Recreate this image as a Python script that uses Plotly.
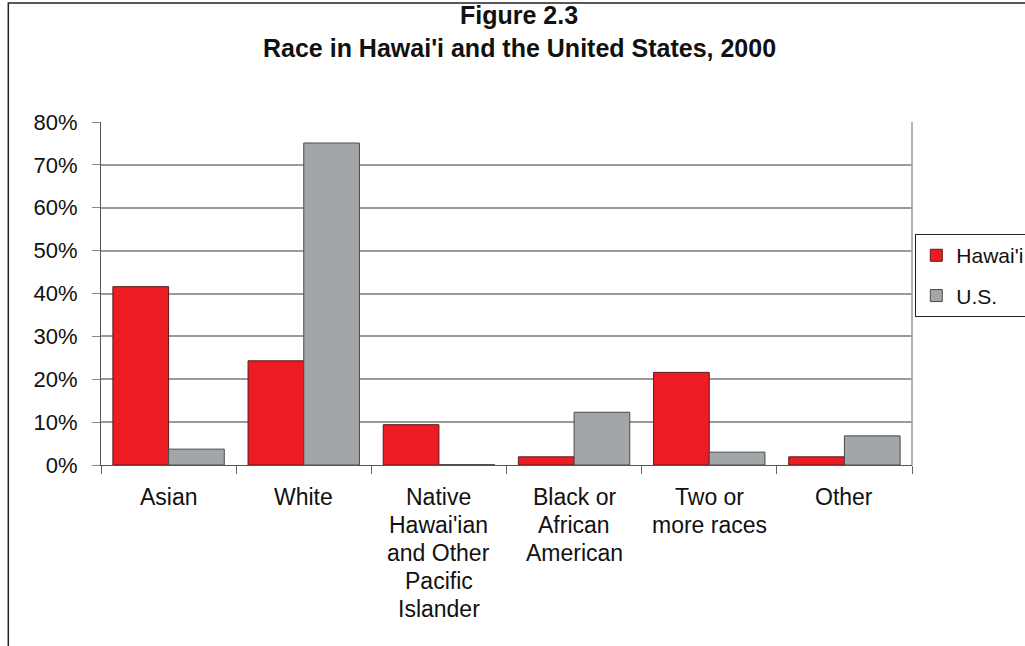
import plotly.graph_objects as go

# Race shares (percent), Census 2000
categories = ["Asian", "White", "Native Hawai'ian and Other Pacific Islander",
              "Black or African American", "Two or more races", "Other"]
label_lines = [["Asian"], ["White"],
               ["Native", "Hawai'ian", "and Other", "Pacific", "Islander"],
               ["Black or", "African", "American"],
               ["Two or", "more races"], ["Other"]]
hawaii = [41.6, 24.3, 9.4, 1.9, 21.6, 1.9]
us = [3.7, 75.1, 0.1, 12.3, 3.0, 6.8]
y_ticks = [0, 10, 20, 30, 40, 50, 60, 70, 80]
y_tick_text = [f"{v}%" for v in y_ticks]

FONT = "Liberation Sans, Arial, sans-serif"
W, H = 1025, 646
L, R, T, B = 100.7, 113.3, 121.7, 180.7
pw, ph = W - L - R, H - T - B

def px_x(p):
    return (p - L) / pw

def px_y(p):
    return (H - B - p) / ph

fig = go.Figure()
fig.add_trace(go.Bar(x=categories, y=hawaii, name="Hawai'i",
                     marker=dict(color="#ED1C24", line=dict(color="#5a1a1a", width=1)),
                     legendgroup="a"))
fig.add_trace(go.Bar(x=categories, y=us, name="U.S.",
                     marker=dict(color="#A3A6A8", line=dict(color="#4a4a4a", width=1)),
                     legendgroup="b"))

annotations = [
    dict(text="<b>Figure 2.3</b>", x=px_x(519), y=px_y(15), xref="paper", yref="paper",
         showarrow=False, font=dict(family=FONT, size=25, color="#111"),
         xanchor="center", yanchor="middle"),
    dict(text="<b>Race in Hawai'i and the United States, 2000</b>", x=px_x(519), y=px_y(48),
         xref="paper", yref="paper", showarrow=False,
         font=dict(family=FONT, size=25, color="#111"), xanchor="center", yanchor="middle"),
]
for cat, lines in zip(categories, label_lines):
    for i, line in enumerate(lines):
        annotations.append(dict(text=line, x=cat, y=0, xref="x", yref="y",
                                yshift=-(31.5 + i * 28), showarrow=False,
                                xanchor="center", yanchor="middle",
                                font=dict(family=FONT, size=23, color="#111")))

shapes = [
    # outer chart frame
    dict(type="rect", xref="paper", yref="paper", x0=px_x(8), x1=px_x(1060),
         y0=px_y(680), y1=px_y(2.5), line=dict(color="#222", width=1.5),
         fillcolor="rgba(0,0,0,0)", layer="below"),
    # right edge of plot area
    dict(type="line", xref="paper", yref="paper", x0=1, x1=1, y0=0, y1=1,
         line=dict(color="#9a9a9a", width=1.5)),
]

fig.update_layout(
    width=W, height=H,
    margin=dict(l=L, r=R, t=T, b=B, autoexpand=False),
    paper_bgcolor="white", plot_bgcolor="white",
    barmode="group", bargap=0.176, bargroupgap=0,
    font=dict(family=FONT, size=21, color="#111"),
    showlegend=True,
    legend=dict(x=px_x(915), y=px_y(234), xanchor="left", yanchor="top",
                bordercolor="#222", borderwidth=1, bgcolor="white",
                font=dict(family=FONT, size=21, color="#111"),
                traceorder="grouped", tracegroupgap=10, itemwidth=30),
    annotations=annotations,
    shapes=shapes,
)
fig.update_xaxes(showticklabels=False, ticks="outside", ticklen=8, tickcolor="#666",
                 tickson="boundaries", showline=True, linecolor="#555", linewidth=1.2,
                 showgrid=False, fixedrange=True)
fig.update_yaxes(range=[0, 80], tickvals=y_ticks, ticktext=y_tick_text,
                 ticks="outside", ticklen=8, tickcolor="#888", showline=True,
                 linecolor="#555", linewidth=1.2, showgrid=True, gridcolor="#9a9a9a",
                 gridwidth=1.5, zeroline=False, ticklabelstandoff=10,
                 tickfont=dict(family=FONT, size=22, color="#111"))

fig.write_html("out.html")
